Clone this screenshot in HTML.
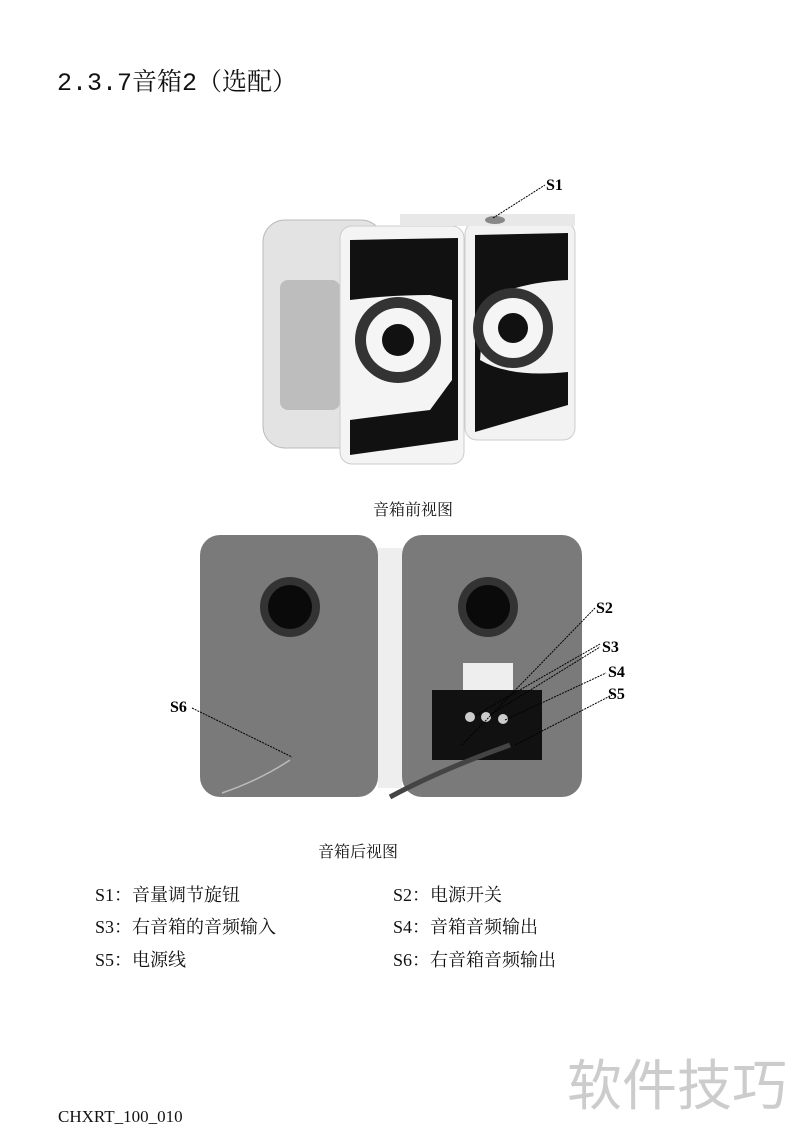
<!DOCTYPE html>
<html><head><meta charset="utf-8"><style>
body{margin:0;background:#fff;width:800px;height:1136px;position:relative;overflow:hidden;font-family:"Liberation Serif","Noto Serif CJK SC",serif;color:#111}
.t{position:absolute;white-space:nowrap}
</style></head><body>
<div class="t" style="left:57px;top:62px;font-size:25px;font-family:'Liberation Mono','Noto Serif CJK SC',monospace">2.3.7音箱2（选配）</div>
<svg class="t" style="left:0;top:0" width="800" height="1136">
<!-- front speakers -->
<rect x="263" y="220" width="120" height="228" rx="22" fill="#e3e3e3" stroke="#bbb"/>
<rect x="280" y="280" width="60" height="130" rx="8" fill="#bdbdbd"/>
<rect x="340" y="226" width="124" height="238" rx="12" fill="#f4f4f4" stroke="#ccc"/>
<path d="M350,240 L458,238 L458,440 L350,455 L350,420 Q380,416 430,410 L452,380 L452,300 L430,295 Q390,295 350,300 Z" fill="#111"/>
<circle cx="398" cy="340" r="43" fill="#333"/><circle cx="398" cy="340" r="32" fill="#f5f5f5"/><circle cx="398" cy="340" r="16" fill="#111"/>
<rect x="465" y="222" width="110" height="218" rx="12" fill="#f2f2f2" stroke="#ccc"/>
<rect x="400" y="214" width="175" height="12" fill="#e8e8e8"/>
<path d="M475,235 L568,233 L568,280 Q520,282 485,300 L480,360 Q510,378 568,372 L568,405 L475,432 Z" fill="#111"/>
<circle cx="513" cy="328" r="40" fill="#333"/><circle cx="513" cy="328" r="30" fill="#f5f5f5"/><circle cx="513" cy="328" r="15" fill="#111"/>
<ellipse cx="495" cy="220" rx="10" ry="4" fill="#888"/>
<line x1="493" y1="218" x2="545" y2="185" stroke="#000" stroke-dasharray="2,1"/>
<!-- back -->
<rect x="200" y="535" width="178" height="262" rx="20" fill="#7a7a7a"/>
<rect x="402" y="535" width="180" height="262" rx="20" fill="#7a7a7a"/>
<rect x="378" y="548" width="24" height="240" fill="#eee"/>
<circle cx="290" cy="607" r="30" fill="#333"/><circle cx="290" cy="607" r="22" fill="#0a0a0a"/>
<circle cx="488" cy="607" r="30" fill="#333"/><circle cx="488" cy="607" r="22" fill="#0a0a0a"/>
<rect x="463" y="663" width="50" height="28" fill="#eee"/>
<rect x="432" y="690" width="110" height="70" fill="#111"/>
<circle cx="470" cy="717" r="5" fill="#ccc"/><circle cx="486" cy="717" r="5" fill="#ccc"/><circle cx="503" cy="719" r="5" fill="#ccc"/>
<path d="M222,793 Q260,780 290,760" stroke="#bbb" fill="none" stroke-width="1.5"/>
<path d="M390,797 Q440,770 510,745" stroke="#444" fill="none" stroke-width="5"/>
<g stroke="#000" stroke-dasharray="2,1" fill="none">
<line x1="192" y1="708" x2="292" y2="757"/>
<line x1="462" y1="745" x2="595" y2="608"/>
<line x1="476" y1="715" x2="600" y2="644"/><line x1="490" y1="715" x2="600" y2="647"/>
<line x1="505" y1="720" x2="606" y2="673"/>
<line x1="515" y1="745" x2="612" y2="695"/>
</g>
<g font-family="Liberation Serif,serif" font-weight="bold" font-size="16" fill="#000">
<text x="546" y="190">S1</text><text x="596" y="613">S2</text><text x="602" y="652">S3</text>
<text x="608" y="677">S4</text><text x="608" y="699">S5</text><text x="170" y="712">S6</text>
</g>
</svg>
<div class="t" style="left:373px;top:497px;font-size:16px">音箱前视图</div>
<div class="t" style="left:318px;top:839px;font-size:16px">音箱后视图</div>
<div class="t" style="left:95px;top:881px;font-size:18px">S1：音量调节旋钮</div>
<div class="t" style="left:393px;top:881px;font-size:18px">S2：电源开关</div>
<div class="t" style="left:95px;top:913px;font-size:18px">S3：右音箱的音频输入</div>
<div class="t" style="left:393px;top:913px;font-size:18px">S4：音箱音频输出</div>
<div class="t" style="left:95px;top:946px;font-size:18px">S5：电源线</div>
<div class="t" style="left:393px;top:946px;font-size:18px">S6：右音箱音频输出</div>
<div class="t" style="left:567px;top:1041px;font-size:55px;color:#ccc;font-family:'Noto Sans CJK SC',sans-serif">软件技巧</div>
<div class="t" style="left:58px;top:1107px;font-size:17px">CHXRT_100_010</div>
</body></html>
